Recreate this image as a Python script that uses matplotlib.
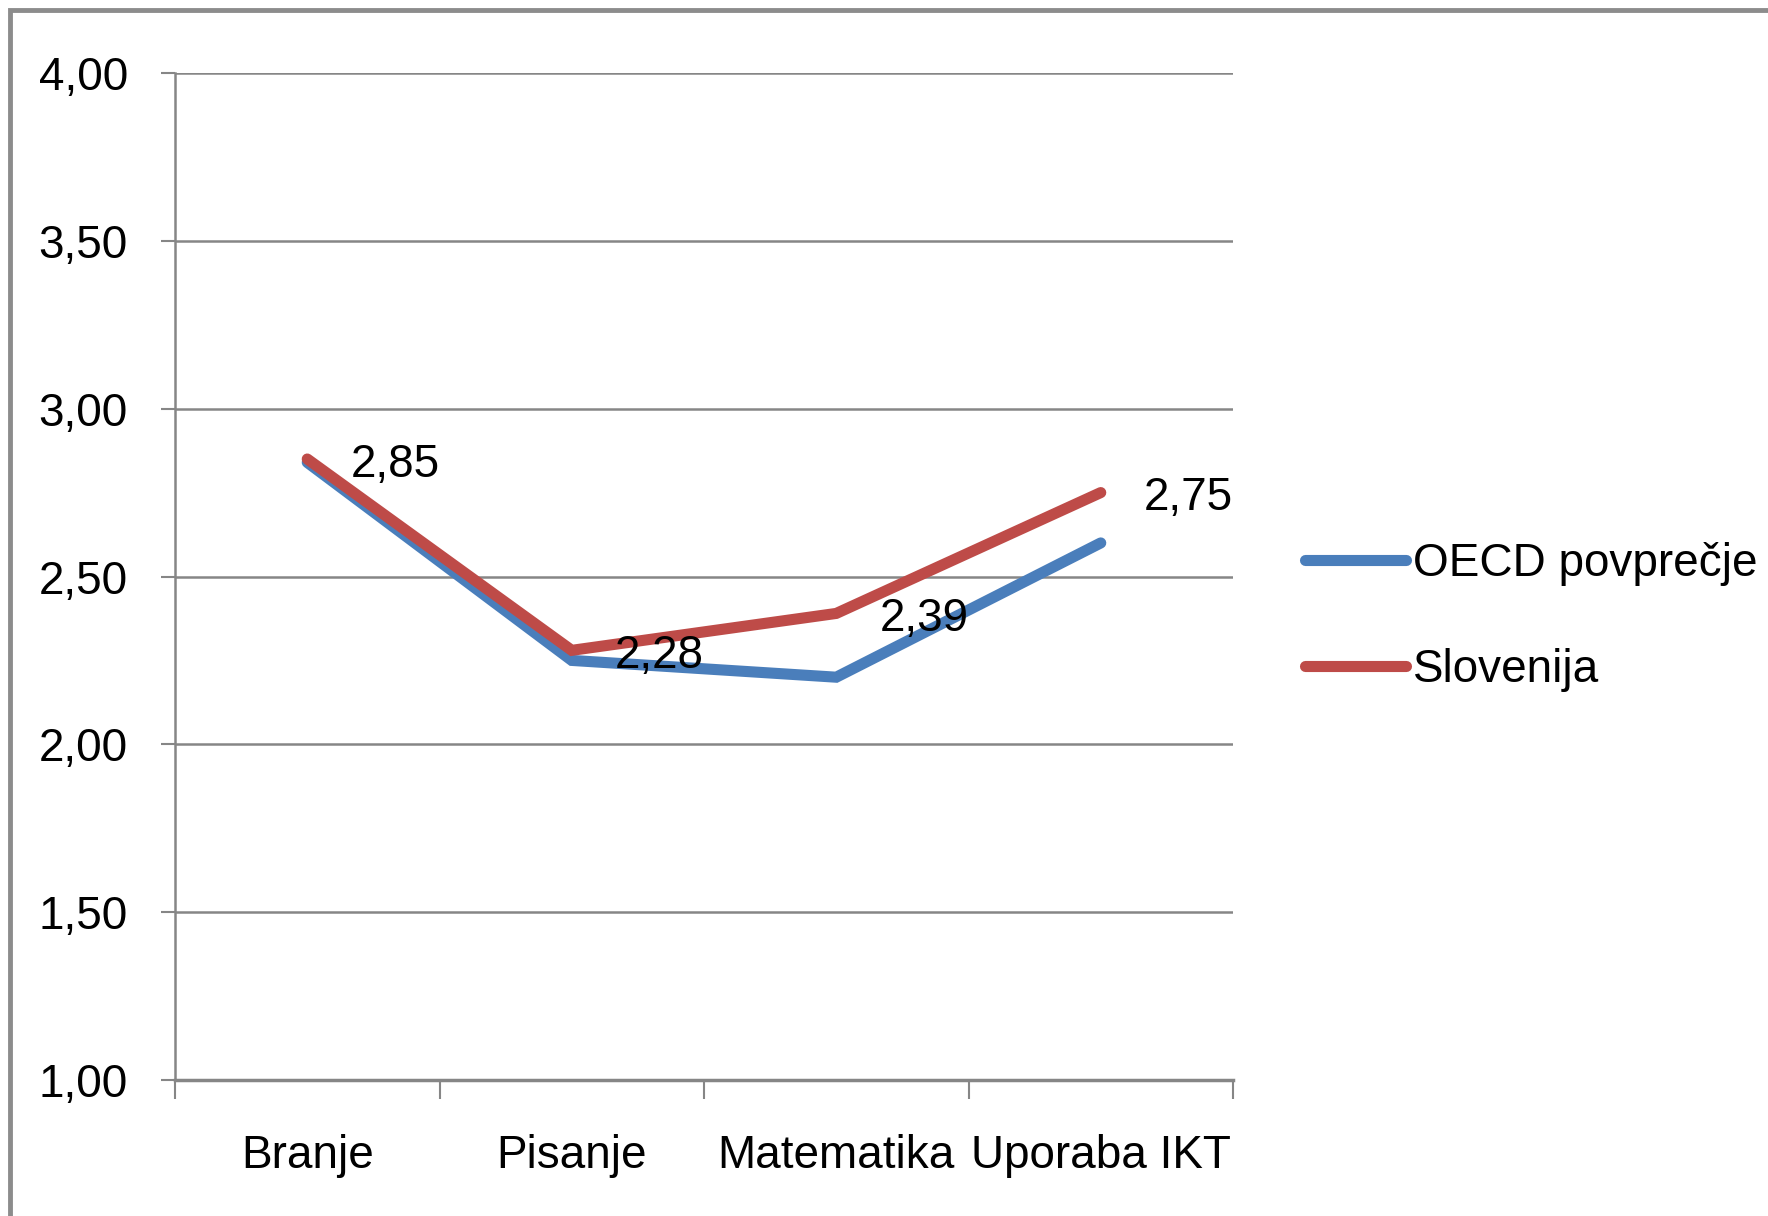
import matplotlib.pyplot as plt
import numpy as np
from matplotlib.patches import Rectangle
from matplotlib.ticker import FuncFormatter

categories = ["Branje", "Pisanje", "Matematika", "Uporaba IKT"]
oecd = [2.84, 2.25, 2.20, 2.60]
slovenija = [2.85, 2.28, 2.39, 2.75]
slo_labels = ["2,85", "2,28", "2,39", "2,75"]
series_names = ["OECD povprečje", "Slovenija"]

plt.rcParams['font.family'] = ['Liberation Sans', 'DejaVu Sans']
fs = 33
grid_col = "#868686"
lw = 8

fig = plt.figure(figsize=(17.68, 12.16), dpi=100)
ax = fig.add_axes([175/1768, 1-1080/1216, 1058/1768, 1007/1216])

x = np.arange(len(categories))
ax.plot(x, oecd, color="#4a7ebb", lw=lw, solid_capstyle="round", solid_joinstyle="miter", label=series_names[0], zorder=3)
ax.plot(x, slovenija, color="#be4b48", lw=lw, solid_capstyle="round", solid_joinstyle="miter", label=series_names[1], zorder=4)

for xi, yi, lab in zip(x, slovenija, slo_labels):
    ax.annotate(lab, (xi, yi), xytext=(31, -4), textcoords="offset points",
                ha="left", va="center", fontsize=fs, zorder=5)

ax.set_xlim(-0.5, len(categories) - 0.5)
ax.set_ylim(1.0, 4.0)
ax.set_yticks(np.arange(1.0, 4.01, 0.5))
ax.yaxis.set_major_formatter(FuncFormatter(lambda v, p: f"{v:.2f}".replace(".", ",")))
ax.yaxis.grid(True, color=grid_col, lw=1.8)
ax.set_axisbelow(True)

ax.set_xticks(np.arange(-0.5, len(categories), 1.0))
ax.set_xticklabels([])
ax.set_xticks(x, minor=True)
ax.set_xticklabels(categories, minor=True)
ax.tick_params(axis="x", which="major", length=14, width=1.5, color=grid_col, direction="out")
ax.tick_params(axis="x", which="minor", length=0, pad=39, labelsize=fs)
ax.tick_params(axis="y", length=10, width=1.5, color=grid_col, pad=24, labelsize=fs)

for s in ["top", "right"]:
    ax.spines[s].set_visible(False)
ax.spines["left"].set_color(grid_col)
ax.spines["left"].set_linewidth(1.8)
ax.spines["bottom"].set_color(grid_col)
ax.spines["bottom"].set_linewidth(2.5)

ax.legend(loc="center left", bbox_to_anchor=(1305/1768, 1-617/1216), bbox_transform=fig.transFigure,
          frameon=False, fontsize=fs, handlelength=2.2, handletextpad=0.15, labelspacing=1.35,
          borderpad=0, borderaxespad=0)

# outer chart border (only top and left visible in the crop)
fig.patches.append(Rectangle((10/1768, -0.1), 1.2, 1 - 10/1216 + 0.1, transform=fig.transFigure,
                             fill=False, edgecolor="#8c8c8c", lw=3.5))

fig.savefig("out.png", dpi=100)
